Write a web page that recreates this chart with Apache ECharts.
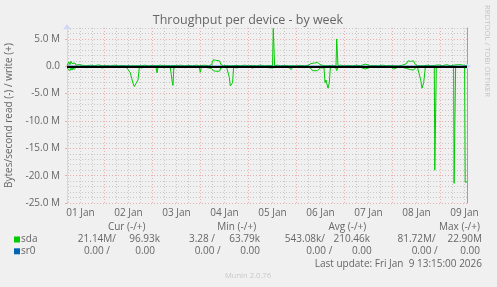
<!DOCTYPE html>
<html><head><meta charset="utf-8">
<script src="https://cdn.jsdelivr.net/npm/echarts@6/dist/echarts.min.js"></script>
<style>html,body{margin:0;padding:0;background:#F0F0F0;}#c{width:497px;height:287px;}</style>
</head><body><div id="c"></div>
<script>
// ---- data (hours since 01 Jan 00:00, values in M bytes/s) ----
const hours = [5.25,5.75,6.25,6.75,7.25,7.75,8.25,8.75,9.25,9.75,10.5,11.25,12,13.5,15,17,19,21,23,25,27,29,31,33,35,
36.0,36.9,37.6,38.25,38.9,39.4,39.9,40.75,41.4,42.5,44,46,48,49.75,50.25,50.75,52,54,55.5,56.9,57.4,57.9,58.25,58.65,
60,62,64,66,68,70,71.4,71.9,72.4,74,76,77.5,78.4,79.5,80.5,81.5,82.2,83.5,85,85.75,86.4,86.9,87.6,88.05,88.55,
90,92,94,96,98,100,102,104,106,108,108.4,108.7,109.05,110.5,112,114,116,117.4,118,120,122,124,126,127.2,128,129,130.5,131.9,
132.8,133.75,134.25,134.75,135.75,136.4,136.9,138,139.75,140.1,140.4,140.75,142,144,146,148,150,152,154.4,155,157,159,161,
163,165,167,168.55,169.5,171,173,175,175.8,177,178.5,179.4,180.5,181.4,182.1,182.75,183.6,184.4,185.5,187,188.9,189.15,189.65,
189.9,191,193,195,197,198.55,198.8,199.3,199.55,201,203,204.05,204.35,204.85,205.25];
const sdaRead = [0.3,0.6,0.2,0.8,0.3,0.7,0.2,0.6,0.4,0.2,0.5,0.2,0.3,0.15,0.25,0.1,0.2,0.15,0.3,0.1,0.2,0.15,0.25,0.1,0.2,
0.2,1.2,2.2,3.1,3.7,3.8,3.5,2.5,0.2,0.3,0.15,0.2,0.1,0.2,1.2,0.2,0.15,0.3,0.1,0.3,1.5,3.0,3.5,0.3,
0.2,0.1,0.25,0.15,0.2,0.1,0.2,1.1,0.2,0.15,0.3,0.4,0.8,0.9,0.8,0.9,0.3,0.2,0.15,0.2,2.0,3.6,3.4,3.0,0.2,
0.3,0.1,0.2,0.15,0.3,0.1,0.2,0.15,0.25,0.3,0.6,0.6,0.2,0.15,0.2,0.1,0.2,0.6,0.15,0.2,0.1,0.25,0.15,0.4,0.8,0.9,0.8,0.3,
0.2,0.3,3.0,2.5,4.0,3.0,0.3,0.2,0.3,0.8,0.8,0.2,0.15,0.2,0.1,0.25,0.15,0.2,0.5,0.15,0.2,0.1,0.25,
0.15,0.2,0.1,0.5,0.2,0.15,0.2,0.4,0.7,0.6,0.7,0.3,0.2,0.3,2.5,4.0,3.0,0.2,0.15,0.2,0.15,19.0,19.0,
0.2,0.15,0.2,0.1,0.2,0.15,21.4,21.4,0.2,0.15,0.2,0.15,21.2,21.2,21.14];
const sdaWrite = [0.2,0.4,0.8,0.3,0.9,0.5,0.7,0.3,0.6,0.2,0.4,0.3,0.1,0.15,0.1,0.2,0.1,0.25,0.1,0.15,0.1,0.2,0.1,0.15,0.1,
0.1,0.1,0.1,0.1,0.1,0.1,0.1,0.1,0.15,0.1,0.2,0.1,0.15,0.1,0.1,0.1,0.2,0.1,0.15,0.1,0.1,0.1,0.1,0.15,
0.1,0.2,0.1,0.15,0.1,0.2,0.1,0.1,0.1,0.2,0.1,0.3,1.2,1.1,1.2,1.0,0.3,0.1,0.15,0.1,0.1,0.1,0.1,0.1,0.1,
0.15,0.1,0.2,0.1,0.15,0.1,0.2,0.1,0.15,0.1,6.9,6.9,0.1,0.2,0.1,0.15,0.1,0.1,0.2,0.1,0.15,0.1,0.2,0.5,0.7,0.6,0.7,0.3,
0.1,0.1,0.1,0.1,0.1,0.1,0.15,0.1,0.1,5.0,5.0,0.1,0.2,0.1,0.15,0.1,0.2,0.1,0.4,0.2,0.1,0.15,0.1,
0.2,0.1,0.15,0.1,0.15,0.1,0.2,0.5,1.0,0.9,1.0,0.3,0.1,0.1,0.1,0.1,0.1,0.15,0.2,0.1,0.15,0.1,0.1,
0.1,0.25,0.1,0.3,0.1,0.2,0.1,0.1,0.1,0.3,0.25,0.1,0.1,0.1,0.097];
const sr0Hours = [5.25,205.25];
const sr0Read = [0,0];
const sr0Write = [0,0];

const dayLabels = ['01 Jan','02 Jan','03 Jan','04 Jan','05 Jan','06 Jan','07 Jan','08 Jan','09 Jan'];
const dayLabelHours = [12,36,60,84,108,132,156,180,204];
const yTickValues = [-25,-20,-15,-10,-5,0,5];
const yTickLabels = ['-25.0 M','-20.0 M','-15.0 M','-10.0 M','-5.0 M','0.0','5.0 M'];

const legendHeaders = ['Cur (-/+)','Min (-/+)','Avg (-/+)','Max (-/+)'];
const seriesNames = ['sda','sr0'];
const sdaStats = ['21.14M/','96.93k','3.28 /','63.79k','543.08k/','210.46k','81.72M/','22.90M'];
const sr0Stats = ['0.00 /','0.00','0.00 /','0.00','0.00 /','0.00','0.00 /','0.00'];
const lastUpdate = 'Last update: Fri Jan  9 13:15:00 2026';
const titleText = 'Throughput per device - by week';
const yName = 'Bytes/second read (-) / write (+)';
const watermark = 'RRDTOOL / TOBI OETIKER';
const footer = 'Munin 2.0.76';

// ---- layout/style ----
const FONT = 'Open Sans';
const TXT = '#666666';
const GREEN = '#00CC00', BLUE = '#0066B3';
const AXIS = '#CFD6F8';
const T0 = 5.25, T1 = 205.25, YMIN = -25, YMAX = 7;
const dayLines = []; for (let h = 24; h < T1; h += 24) dayLines.push(h);
const quarterLines = []; for (let h = 6; h < T1; h += 6) if (h % 24) quarterLines.push(h);
const yMinor = []; for (let v = -24; v <= YMAX; v++) if (v % 5) yMinor.push(v);
const majorColor = 'rgba(230,120,120,0.55)';
const minorColor = 'rgba(150,150,150,0.45)';

const chart = echarts.init(document.getElementById('c'), null, {renderer: 'canvas', width: 497, height: 287});

function txt(text, x, y, align, opts) {
  opts = opts || {};
  return {type: 'text', x: x, y: y, rotation: opts.rotation || 0, silent: true, z: 100,
    style: {text: text, fill: opts.color || TXT, font: (opts.size || 10) + 'px "' + FONT + '"',
      align: align, textAlign: align, verticalAlign: 'middle', textVerticalAlign: 'middle'}};
}

const graphics = [];
graphics.push(txt(titleText, 248, 20.5, 'center', {size: 12.5}));
graphics.push(txt(yName, 9, 115.5, 'center', {rotation: Math.PI / 2}));
graphics.push(txt(watermark, 487, 51, 'center', {rotation: -Math.PI / 2, size: 7.7, color: '#C4C4C4'}));
const headerX = [126.7, 236.7, 347.3, 459.5];
legendHeaders.forEach((h, i) => graphics.push(txt(h, headerX[i], 227, 'center')));
const rowY = [239.5, 251.3];
const rowColors = [GREEN, BLUE];
seriesNames.forEach((n, i) => {
  graphics.push({type: 'rect', silent: true, shape: {x: 14, y: rowY[i] - 3, width: 6, height: 6}, style: {fill: rowColors[i]}});
  graphics.push(txt(n, 21, rowY[i], 'left'));
});
const sdaRight = [116, 160, 215, 260, 325, 370, 435.7, 482];
const sr0Right = [110, 155, 220.7, 260, 332.3, 371.7, 437.7, 480];
sdaStats.forEach((s, i) => graphics.push(txt(s, sdaRight[i], rowY[0], 'right')));
sr0Stats.forEach((s, i) => graphics.push(txt(s, sr0Right[i], rowY[1], 'right')));
graphics.push(txt(lastUpdate, 482, 264, 'right'));
graphics.push(txt(footer, 248, 275.5, 'center', {size: 7.6, color: '#C8C8C8'}));

const lineSeries = (name, xs, ys, sign, color, extra) => Object.assign({
  name: name, type: 'line', xAxisIndex: 0, yAxisIndex: 0,
  data: xs.map((h, i) => [h, sign * ys[i]]),
  showSymbol: false, symbol: 'none', sampling: null,
  lineStyle: {color: color, width: 1}, itemStyle: {color: color}, z: 3
}, extra || {});

chart.setOption({
  animation: false,
  backgroundColor: '#F0F0F0',
  textStyle: {fontFamily: FONT},
  grid: {left: 67, top: 28, width: 400, height: 175},
  xAxis: [
    {type: 'value', min: T0, max: T1,
     axisLine: {show: true, lineStyle: {color: AXIS, width: 1}, symbol: ['none', 'arrow'], symbolSize: [6, 6], symbolOffset: [0, 4]},
     axisTick: {show: true, length: 2, inside: false, customValues: dayLines, lineStyle: {color: majorColor}},
     splitLine: {show: true, lineStyle: {color: majorColor, type: [1, 2], width: 1}},
     axisLabel: {show: true, customValues: dayLabelHours, margin: 5, color: TXT, fontSize: 10, fontFamily: FONT,
       formatter: v => dayLabels[Math.round((v - 12) / 24)]}},
    {type: 'value', min: T0, max: T1,
     axisLine: {show: false},
     axisTick: {show: true, length: 2, customValues: quarterLines, lineStyle: {color: minorColor}},
     splitLine: {show: true, lineStyle: {color: minorColor, type: [1, 2], width: 1}},
     axisLabel: {show: false}}
  ],
  yAxis: [
    {type: 'value', min: YMIN, max: YMAX, position: 'left',
     axisLine: {show: true, lineStyle: {color: AXIS}, symbol: ['none', 'arrow'], symbolSize: [6, 6], symbolOffset: [0, 4]},
     axisTick: {show: true, length: 2, customValues: yTickValues, lineStyle: {color: majorColor}},
     splitLine: {show: true, lineStyle: {color: majorColor, type: [1, 2], width: 1}},
     axisLabel: {show: true, customValues: yTickValues, margin: 7, color: TXT, fontSize: 10, fontFamily: FONT,
       formatter: v => yTickLabels[yTickValues.indexOf(Math.round(v))]}},
    {type: 'value', min: YMIN, max: YMAX, position: 'left',
     axisLine: {show: false},
     axisTick: {show: false, customValues: yMinor},
     splitLine: {show: true, lineStyle: {color: minorColor, type: [1, 2], width: 1}},
     axisLabel: {show: false}},
    {type: 'value', min: YMIN, max: YMAX, position: 'right',
     axisLine: {show: true, lineStyle: {color: '#A0A0A0', width: 1}},
     axisTick: {show: false}, splitLine: {show: false}, axisLabel: {show: false}}
  ],
  series: [
    lineSeries('sda read', hours, sdaRead, -1, GREEN),
    lineSeries('sda write', hours, sdaWrite, 1, GREEN),
    lineSeries('sr0 read', sr0Hours, sr0Read, -1, BLUE),
    lineSeries('sr0 write', sr0Hours, sr0Write, 1, BLUE, {
      markLine: {silent: true, symbol: ['none', 'none'], label: {show: false}, z: 10,
        lineStyle: {color: '#000000', width: 2, type: 'solid'}, data: [{yAxis: 0}]}})
  ],
  graphic: graphics
});
</script>
</body></html>
